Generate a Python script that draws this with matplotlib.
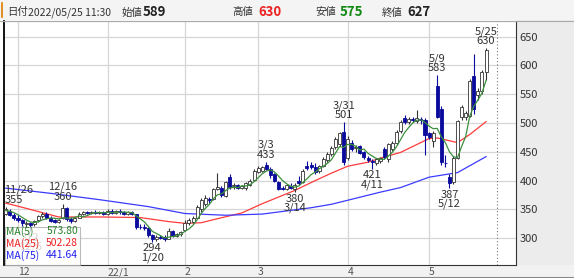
import matplotlib
matplotlib.use("Agg")
import matplotlib.pyplot as plt
from matplotlib.patches import Rectangle
import numpy as np
import pandas as pd

plt.rcParams['font.family'] = ['Noto Sans CJK JP', 'DejaVu Sans']

# ---- data ----
dates = ['11/26', '11/29', '11/30',
         '12/1', '12/2', '12/3', '12/6', '12/7', '12/8', '12/9', '12/10', '12/13', '12/14', '12/15', '12/16',
         '12/17', '12/20', '12/21', '12/22', '12/23', '12/24', '12/27', '12/28', '12/29', '12/30',
         '1/4', '1/5', '1/6', '1/7', '1/11', '1/12', '1/13', '1/14', '1/17', '1/18', '1/19', '1/20', '1/21',
         '1/24', '1/25', '1/26', '1/27', '1/28', '1/31',
         '2/1', '2/2', '2/3', '2/4', '2/7', '2/8', '2/9', '2/10', '2/14', '2/15', '2/16', '2/17', '2/18',
         '2/21', '2/22', '2/24', '2/25', '2/28',
         '3/1', '3/2', '3/3', '3/4', '3/7', '3/8', '3/9', '3/10', '3/11', '3/14', '3/15', '3/16', '3/17',
         '3/18', '3/22', '3/23', '3/24', '3/25', '3/28', '3/29', '3/30', '3/31',
         '4/1', '4/4', '4/5', '4/6', '4/7', '4/8', '4/11', '4/12', '4/13', '4/14', '4/15', '4/18', '4/19',
         '4/20', '4/21', '4/22', '4/25', '4/26', '4/27', '4/28',
         '5/2', '5/6', '5/9', '5/10', '5/11', '5/12', '5/13', '5/16', '5/17', '5/18', '5/19', '5/20',
         '5/23', '5/24', '5/25']

opens = [343, 348, 341,
         336, 331, 325, 326, 324, 331, 338, 343, 335, 331, 328, 335, 352, 333, 330, 336, 343, 345, 344, 346, 344, 345,
         342, 348, 344, 347, 346, 343, 346, 342, 320, 320, 318, 305, 298, 302, 303, 299, 312, 304, 308,
         314, 326, 329, 335, 350, 360, 368, 368, 386, 388, 374, 406, 390, 393, 388, 388, 393, 401,
         415, 417, 428, 420, 412, 398, 387, 386, 391, 386, 400, 397, 425, 428, 424, 416, 426, 435, 446, 458, 463, 485,
         440, 466, 456, 460, 450, 440, 434, 431, 434, 455, 437, 455, 465, 486, 508, 501, 507, 503, 507, 506,
         482, 468, 565, 525, 431, 406, 397, 440, 510, 511, 512, 582, 548, 556, 589]
highs = [355, 350, 344,
         340, 334, 330, 329, 332, 340, 345, 345, 338, 334, 334, 360, 355, 337, 337, 345, 347, 348, 347, 349, 347, 348,
         350, 350, 349, 350, 348, 347, 348, 343, 324, 325, 320, 308, 305, 306, 305, 318, 315, 310, 313,
         331, 336, 338, 358, 370, 375, 372, 388, 413, 390, 400, 412, 396, 395, 392, 398, 402, 420,
         425, 426, 433, 423, 414, 400, 390, 395, 396, 396, 408, 420, 434, 433, 431, 428, 441, 450, 460, 476, 485, 501,
         478, 470, 462, 462, 452, 443, 438, 440, 441, 458, 466, 468, 488, 505, 513, 510, 510, 522, 510, 508,
         485, 486, 583, 530, 444, 412, 442, 506, 532, 520, 576, 620, 560, 592, 630]
lows = [341, 338, 332,
        328, 322, 320, 312, 322, 329, 335, 333, 328, 326, 326, 334, 330, 327, 329, 335, 341, 342, 342, 343, 342, 341,
        340, 343, 343, 343, 341, 340, 340, 316, 316, 315, 303, 294, 296, 298, 296, 298, 302, 302, 304,
        312, 323, 326, 333, 345, 356, 362, 366, 383, 371, 372, 386, 386, 385, 385, 384, 391, 399,
        413, 415, 418, 405, 398, 383, 383, 384, 385, 380, 393, 396, 418, 421, 412, 414, 424, 432, 443, 455, 460, 428,
        435, 452, 450, 446, 438, 432, 421, 428, 431, 438, 433, 452, 462, 483, 499, 498, 502, 500, 498, 444,
        473, 458, 508, 428, 424, 387, 395, 438, 505, 506, 510, 515, 540, 550, 575]
closes = [350, 340, 335,
          331, 326, 327, 323, 330, 338, 342, 336, 330, 328, 332, 352, 333, 330, 335, 343, 345, 344, 346, 344, 345, 342,
          348, 344, 347, 346, 343, 345, 342, 320, 319, 318, 305, 298, 302, 300, 298, 312, 304, 308, 311,
          326, 332, 336, 355, 366, 370, 366, 386, 389, 375, 397, 389, 392, 387, 390, 396, 400, 417,
          422, 424, 420, 410, 400, 386, 385, 392, 388, 393, 396, 417, 422, 424, 415, 425, 438, 447, 456, 472, 482, 432,
          472, 455, 458, 448, 441, 435, 432, 437, 440, 441, 463, 465, 485, 502, 502, 507, 505, 508, 505, 480,
          475, 483, 510, 432, 430, 396, 439, 503, 528, 517, 573, 525, 556, 588, 627]
prior_closes = [345, 348, 349, 348]   # closes before 11/26, only for MA(5)

ma25_dates = ['11/26', '12/3', '12/15', '12/29', '1/17', '1/26', '2/1', '2/7', '2/14', '2/22', '3/2', '3/14',
              '3/22', '3/28', '4/1', '4/8', '4/13', '4/20', '5/2', '5/9', '5/16', '5/19', '5/25']
ma25_vals = [361, 352, 337, 337, 336, 329, 326, 327, 334, 344, 360, 383,
             400, 413, 425, 432, 439, 449, 473, 474, 466, 480, 502.28]
ma75_dates = ['11/26', '12/13', '12/29', '1/19', '2/1', '2/16', '3/2', '3/18', '3/28', '4/13', '4/20', '5/2',
              '5/16', '5/25']
ma75_vals = [387, 378, 367, 355, 343, 340, 342, 353, 359, 380, 388, 406, 414, 441.64]

high_marks = ['11/26', '12/16', '3/3', '3/31', '5/9', '5/25']
low_marks = ['12/6', '1/20', '3/14', '4/11', '5/12']
month_starts = ['12/1', '1/4', '2/1', '3/1', '4/1', '5/2']
month_labels = ['12', '22/1', '2', '3', '4', '5']
legend_names = ['MA(5)', 'MA(25)', 'MA(75)']
legend_vals = ['573.80', '502.28', '441.64']

header = [('日付', False), ('2022/05/25 11:30', False), ('始値', False), ('589', True),
          ('高値', False), ('630', True), ('安値', False), ('575', True), ('終値', False), ('627', True)]

# ---- layout ----
W, H = 574, 278
fig = plt.figure(figsize=(W / 100, H / 100), dpi=100)

def fx(px):
    return px / W

def fy(py):
    return 1 - py / H

pos = {d: i for i, d in enumerate(dates)}
x = np.arange(len(dates))

fig.patches.append(Rectangle((0, fy(20)), 1, 20 / H, transform=fig.transFigure,
                             facecolor='#f4f4f4', edgecolor='none', zorder=-5))
fig.patches.append(Rectangle((fx(516), fy(265)), 58 / W, 245 / H, transform=fig.transFigure,
                             facecolor='#ececec', edgecolor='none', zorder=-5))
fig.patches.append(Rectangle((0, fy(278)), 1, 13 / H, transform=fig.transFigure,
                             facecolor='#f2f2f2', edgecolor='none', zorder=-5))
fig.add_artist(plt.Line2D([0, 1], [fy(20.5), fy(20.5)], color='#aaaaaa', lw=0.8))
fig.add_artist(plt.Line2D([0, 1], [fy(277), fy(277)], color='#888888', lw=0.8))
fig.add_artist(plt.Line2D([fx(2), fx(2)], [fy(3), fy(17)], color='#e07b00', lw=1.2))

ax = fig.add_axes([fx(4), fy(265), (516 - 4) / W, (265 - 21) / H])
ax.set_xlim(-0.44, 125.36)
ax.set_ylim(253.7, 676.9)

# grid
for v in range(300, 651, 50):
    ax.axhline(v, color='#d6d6d6', lw=0.9, zorder=0)
for d in month_starts:
    ax.axvline(pos[d], color='#d6d6d6', lw=0.9, zorder=0)
ax.axvline(120.7, color='#777777', lw=0.8, ls=(0, (1, 2)), zorder=0)

# candles
for i in x:
    o, h, l, c = opens[i], highs[i], lows[i], closes[i]
    if c >= o:
        fc, ec, wc = 'white', '#333333', '#333333'
    else:
        fc, ec, wc = '#0a0a9c', '#0a0a9c', '#0a0a9c'
    ax.vlines(i, l, h, color=wc, lw=0.8, zorder=3)
    ax.bar(i, max(abs(c - o), 0.8), bottom=min(o, c), width=0.74,
           facecolor=fc, edgecolor=ec, lw=0.6, zorder=4)

# moving averages
ma5 = pd.Series(prior_closes + closes).rolling(5).mean().to_numpy()[len(prior_closes):]
ax.plot(x, ma5, color='#3c8f3c', lw=0.9, zorder=5)
ax.plot([pos[d] for d in ma25_dates], ma25_vals, color='#ff3b3b', lw=0.9, zorder=2)
ax.plot([pos[d] for d in ma75_dates], ma75_vals, color='#3b3bff', lw=0.9, zorder=2)

# high / low marks
for d in high_marks:
    i = pos[d]
    xi, ha = (ax.get_xlim()[0] + 0.1, 'left') if i == 0 else (i, 'center')
    ax.annotate(f"{d}\n{highs[i]}", xy=(xi, highs[i]), xytext=(0, 1.5), textcoords='offset points',
                ha=ha, va='bottom', fontsize=8, linespacing=0.9, color='#333333', zorder=6)
for d in low_marks:
    i = pos[d]
    ax.annotate(f"{lows[i]}\n{d}", xy=(i, lows[i]), xytext=(0, -1), textcoords='offset points',
                ha='center', va='top', fontsize=8, linespacing=0.9, color='#333333', zorder=6)

# axes styling
ax.set_yticks(range(300, 651, 50))
ax.yaxis.tick_right()
ax.tick_params(axis='y', length=0, pad=2.5, labelsize=8, labelcolor='#333333')
ax.set_xticks([pos[d] for d in month_starts])
ax.set_xticklabels(month_labels)
for lab in ax.get_xticklabels():
    lab.set_horizontalalignment('left')
ax.tick_params(axis='x', length=0, pad=1.5, labelsize=7.5, labelcolor='#555555')
ax.spines['left'].set_color('black')
ax.spines['left'].set_linewidth(1.3)
ax.spines['bottom'].set_color('#333333')
ax.spines['right'].set_color('#333333')
ax.spines['top'].set_color('#bbbbbb')

# legend box (the low mark of 12/6 shows faintly through it)
fig.patches.append(Rectangle((fx(4.5), fy(264.5)), 75.5 / W, 38 / H, transform=fig.transFigure,
                             facecolor='white', alpha=0.8, edgecolor='#aaaaaa', lw=0.8, zorder=5))
leg_colors = ['#2a7f2a', '#ee2222', '#2222ee']
for k in range(3):
    yy = fy(231.5 + 12 * k)
    fig.text(fx(6), yy, legend_names[k], color=leg_colors[k], fontsize=7.5, va='center', zorder=6)
    fig.text(fx(78), yy, legend_vals[k], color=leg_colors[k], fontsize=7.5, va='center', ha='right', zorder=6)

# header
head_x = [7, 28, 122, 143, 232, 258, 315, 340, 382, 407]
head_c = ['#333333', '#333333', '#333333', '#222222', '#333333', '#ee2020', '#333333', '#118811', '#333333', '#222222']
for (txt, big), hx, col in zip(header, head_x, head_c):
    fig.text(fx(hx), fy(15.5), txt, color=col, fontsize=9.5 if big else 7.5,
             fontweight='bold' if big else 'normal', va='baseline')

fig.savefig('out.png', dpi=100)
